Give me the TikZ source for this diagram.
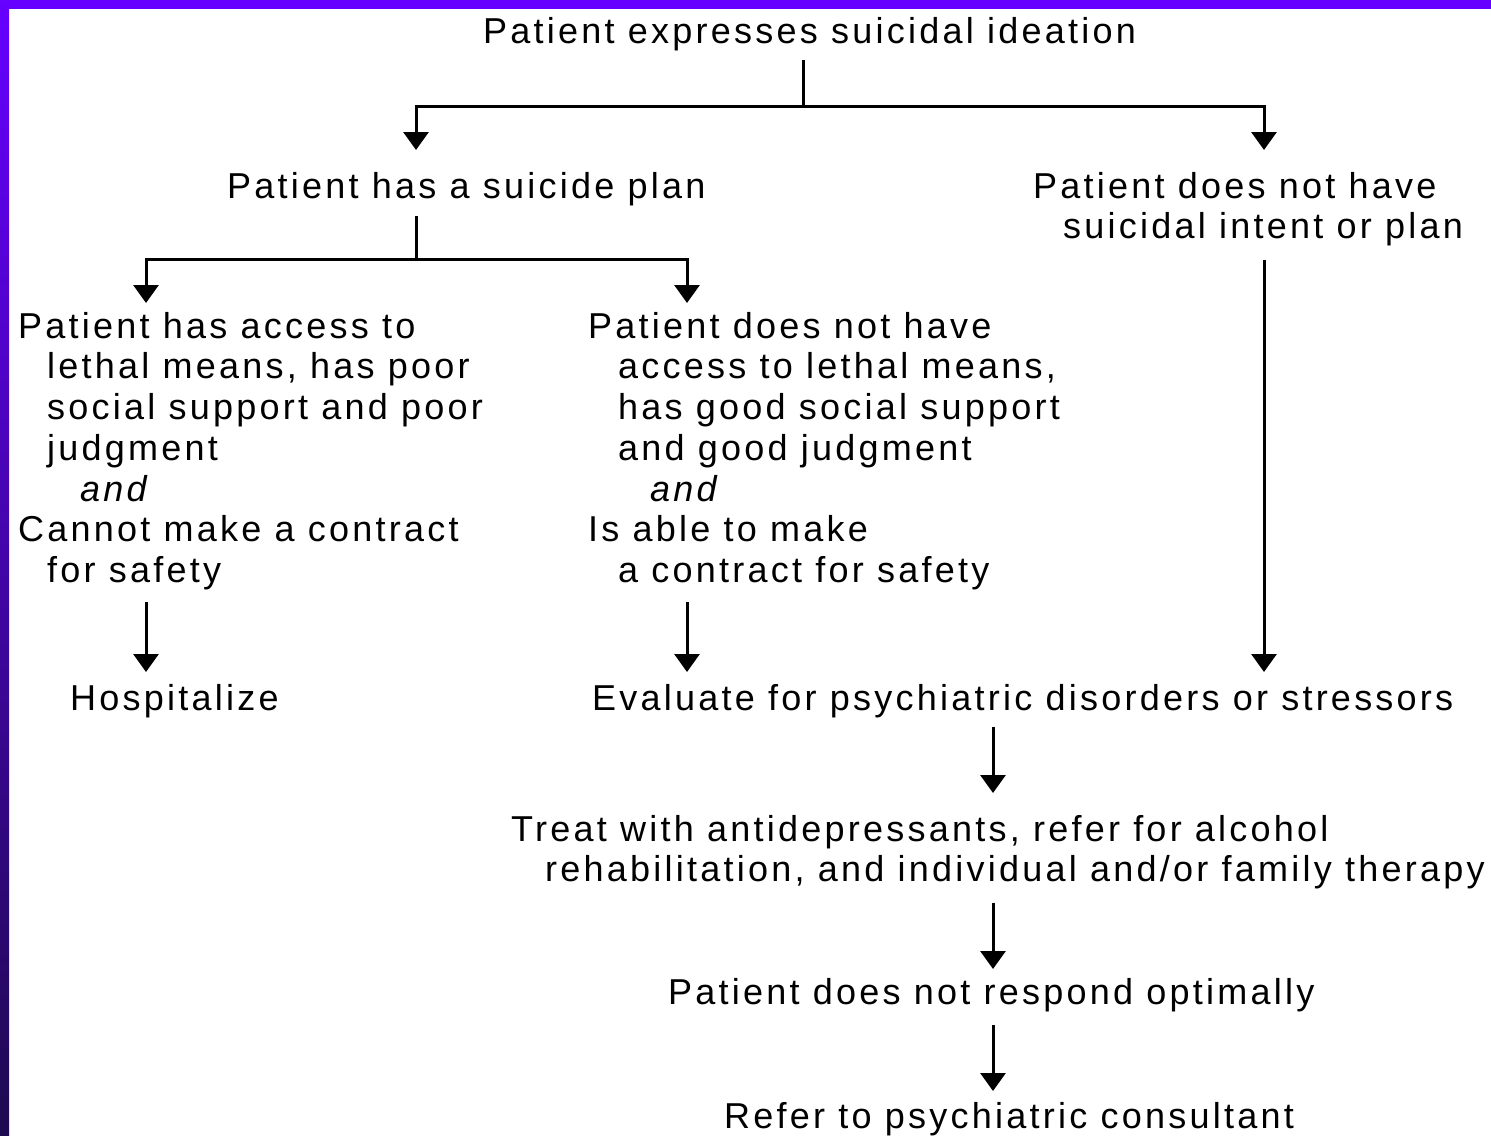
\documentclass[tikz,border=0pt]{standalone}
\usepackage{fontspec}
\setmainfont{Liberation Sans}[LetterSpace=9]
\usetikzlibrary{arrows.meta}

\definecolor{frametop}{RGB}{102,0,255}
\definecolor{framebot}{RGB}{30,10,80}

\tikzset{
  txt/.style={anchor=north west,inner sep=0pt,align=left,font=\fontsize{36}{40.7}\selectfont},
  flowline/.style={line width=3pt},
  flowarrow/.style={line width=3pt,-{Triangle[width=25pt,length=18pt]}},
}

\begin{document}
\begin{tikzpicture}[x=1pt,y=-1pt]
  \useasboundingbox (0,0) rectangle (1491,1135);
  \fill[frametop] (0,0) rectangle (1491,9);
  \shade[top color=frametop,bottom color=framebot] (0,0) rectangle (9,1135);

  % decision nodes
  \node[txt] (top) at (483,17) {Patient expresses suicidal ideation};
  \node[txt] (plan) at (227,172) {Patient has a suicide plan};
  \node[txt] (noplan) at (1033,172) {Patient does not have\\\hspace*{30pt}suicidal intent or plan};
  \node[txt] (risk) at (18,312) {Patient has access to\\
    \hspace*{29pt}lethal means, has poor\\
    \hspace*{29pt}social support and poor\\
    \hspace*{29pt}judgment\\
    \hspace*{62pt}\textit{and}\\
    Cannot make a contract\\
    \hspace*{29pt}for safety};
  \node[txt] (safe) at (588,312) {Patient does not have\\
    \hspace*{30pt}access to lethal means,\\
    \hspace*{30pt}has good social support\\
    \hspace*{30pt}and good judgment\\
    \hspace*{62pt}\textit{and}\\
    Is able to make\\
    \hspace*{30pt}a contract for safety};
  \node[txt] (hosp) at (70,684) {Hospitalize};
  \node[txt] (eval) at (592,684) {Evaluate for psychiatric disorders or stressors};
  \node[txt] (treat) at (511,815) {Treat with antidepressants, refer for alcohol\\\hspace*{34pt}rehabilitation, and individual and/or family therapy};
  \node[txt] (nores) at (668,978) {Patient does not respond optimally};
  \node[txt] (refer) at (724,1102) {Refer to psychiatric consultant};

  % branch points and arrow columns
  \coordinate (fork1) at (803,106);
  \coordinate (fork2) at (416,259);
  \foreach \n/\x in {colA/146,colB/687,colC/993,colR/1264}
    \coordinate (\n) at (\x,0);

  \draw[flowline,shorten <=9pt] (top.south -| fork1) -- (fork1);
  \draw[flowarrow,shorten >=22pt] (fork1) -| (plan.north -| fork2);
  \draw[flowarrow,shorten >=22pt] (fork1) -| (noplan.north -| colR);

  \draw[flowline,shorten <=10pt] (plan.south -| fork2) -- (fork2);
  \draw[flowarrow,shorten >=9pt] (fork2) -| (risk.north -| colA);
  \draw[flowarrow,shorten >=9pt] (fork2) -| (safe.north -| colB);

  \draw[flowarrow,shorten <=12pt,shorten >=12pt] (risk.south -| colA) -- (hosp.north -| colA);
  \draw[flowarrow,shorten <=12pt,shorten >=12pt] (safe.south -| colB) -- (eval.north -| colB);
  \draw[flowarrow,shorten <=13pt,shorten >=12pt] (noplan.south -| colR) -- (eval.north -| colR);
  \draw[flowarrow,shorten <=9pt,shorten >=22pt] (eval.south -| colC) -- (treat.north -| colC);
  \draw[flowarrow,shorten <=13pt,shorten >=9pt] (treat.south -| colC) -- (nores.north -| colC);
  \draw[flowarrow,shorten <=13pt,shorten >=11pt] (nores.south -| colC) -- (refer.north -| colC);
\end{tikzpicture}
\end{document}
